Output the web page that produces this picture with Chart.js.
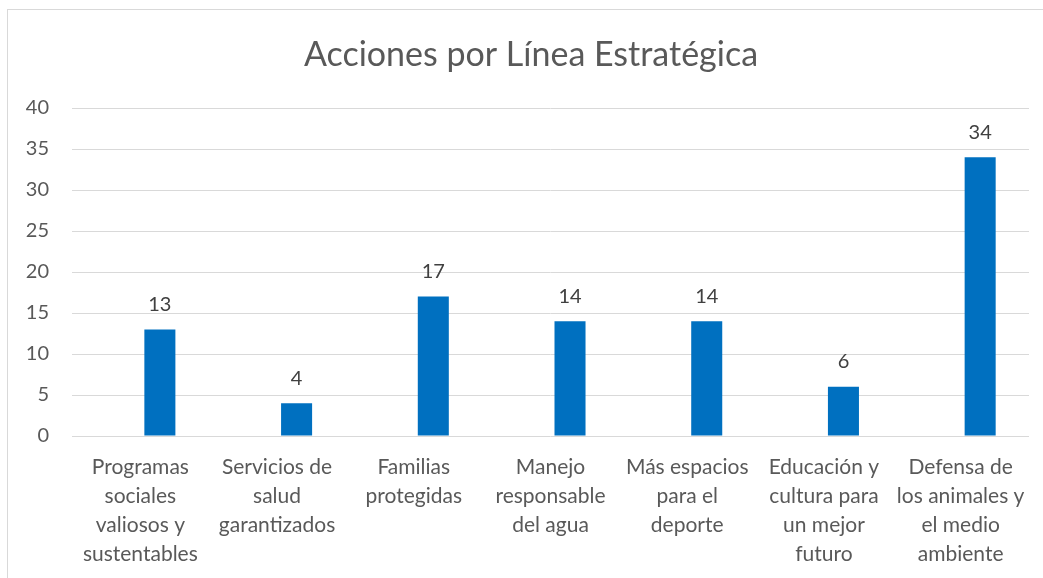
<!DOCTYPE html>
<html>
<head>
<meta charset="utf-8">
<script src="https://cdn.jsdelivr.net/npm/chart.js@4.4.0/dist/chart.umd.min.js"></script>
<style>
  html, body { margin: 0; padding: 0; background: #fff; overflow: hidden; }
  #wrap { position: relative; width: 1043px; height: 578px; }
  #frame { position: absolute; left: 7px; top: 9px; width: 1100px; height: 700px;
           border-left: 1px solid #d9d9d9; border-top: 1px solid #d9d9d9; }
  canvas { position: absolute; left: 0; top: 0; }
</style>
</head>
<body>
<div id="wrap">
  <div id="frame"></div>
  <canvas id="chart" width="1043" height="578"></canvas>
</div>
<script>
// ---------- DATA ----------
const TITLE = "Acciones por Línea Estratégica";
const categories = [
  ["Programas", "sociales", "valiosos y", "sustentables"],
  ["Servicios de", "salud", "garantizados"],
  ["Familias", "protegidas"],
  ["Manejo", "responsable", "del agua"],
  ["Más espacios", "para el", "deporte"],
  ["Educación y", "cultura para", "un mejor", "futuro"],
  ["Defensa de", "los animales y", "el medio", "ambiente"]
];
const acciones = [13, 4, 17, 14, 14, 6, 34];
// the source chart has an empty first series, which pushes the bars right of the label
const serieVacia = [null, null, null, null, null, null, null];
const yMin = 0;
const yMax = 40;
const yStep = 5;

// ---------- STYLE ----------
const FONT = "Lato, 'Open Sans', sans-serif";
const TEXT_COLOR = "#595959";
const BAR_COLOR = "#0070C0";
const GRID_COLOR = "#d9d9d9";

// title centred on the frame (which is wider than the window), not on the canvas
const frameTitle = {
  id: "frameTitle",
  afterDraw(chart) {
    const ctx = chart.ctx;
    ctx.save();
    ctx.font = "34px " + FONT;
    ctx.fillStyle = TEXT_COLOR;
    ctx.textAlign = "center";
    ctx.textBaseline = "middle";
    ctx.fillText(TITLE, 531, 55);
    ctx.restore();
  }
};

// draw the value above each bar
const barValues = {
  id: "barValues",
  afterDatasetsDraw(chart) {
    const ctx = chart.ctx;
    const meta = chart.getDatasetMeta(1);
    ctx.save();
    ctx.font = "20px " + FONT;
    ctx.fillStyle = "#404040";
    ctx.textAlign = "center";
    ctx.textBaseline = "middle";
    meta.data.forEach((bar, i) => {
      ctx.fillText(String(acciones[i]), bar.x, bar.y - 25);
    });
    ctx.restore();
  }
};

const ctx = document.getElementById("chart").getContext("2d");

new Chart(ctx, {
  type: "bar",
  data: {
    labels: categories,
    datasets: [
      {
        data: serieVacia,
        backgroundColor: BAR_COLOR,
        borderWidth: 0,
        categoryPercentage: 0.571,
        barPercentage: 0.795
      },
      {
        data: acciones,
        backgroundColor: BAR_COLOR,
        borderWidth: 0,
        categoryPercentage: 0.571,
        barPercentage: 0.795
      }
    ]
  },
  options: {
    responsive: false,
    animation: false,
    layout: { padding: { left: 0, right: 14, top: 108, bottom: 0 } },
    plugins: {
      legend: { display: false },
      tooltip: { enabled: false },
      title: { display: false }
    },
    scales: {
      x: {
        grid: { display: false },
        border: { display: false },
        ticks: {
          color: TEXT_COLOR,
          font: { family: FONT, size: 21, lineHeight: 1.38 },
          padding: 9,
          maxRotation: 0,
          autoSkip: false
        },
        afterFit(scale) { scale.height = 142; }
      },
      y: {
        min: yMin,
        max: yMax,
        grid: { color: GRID_COLOR, lineWidth: 1, drawTicks: false },
        border: { display: false },
        ticks: {
          stepSize: yStep,
          color: TEXT_COLOR,
          font: { family: FONT, size: 20 },
          padding: 23
        },
        afterFit(scale) { scale.width = 72; }
      }
    }
  },
  plugins: [barValues, frameTitle]
});
</script>
</body>
</html>
